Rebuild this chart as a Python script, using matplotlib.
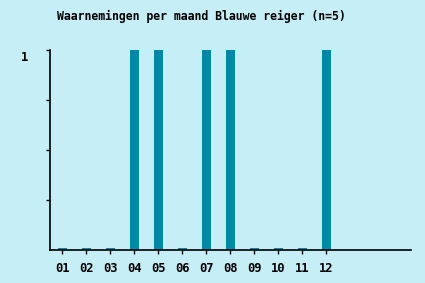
import numpy as np
import matplotlib.pyplot as plt
import matplotlib.transforms as mtransforms
from matplotlib.ticker import FixedLocator

# data per maand
maanden = ['01', '02', '03', '04', '05', '06', '07', '08', '09', '10', '11', '12']
waarnemingen = [0, 0, 0, 1, 1, 0, 1, 1, 0, 0, 0, 1]
titel = 'Waarnemingen per maand Blauwe reiger (n=5)'

achtergrond = '#c6eef7'
balk_kleur = '#0088a8'

fig = plt.figure(figsize=(4.25, 2.83), dpi=100, facecolor=achtergrond)
ax = fig.add_axes([50 / 425, 1 - 250 / 283, 360.5 / 425, 200 / 283])
ax.set_facecolor(achtergrond)

x = np.arange(1, len(maanden) + 1)
# lege maanden krijgen een klein streepje, zoals in het origineel
hoogtes = np.maximum(np.array(waarnemingen, dtype=float), 0.008)
ax.bar(x, hoogtes, width=0.38, color=balk_kleur, linewidth=0)

ax.set_xlim(0.48, 15.5)
ax.set_ylim(0, 1)

lettertype = dict(family='DejaVu Sans Mono', weight='bold', size=8.7)

ax.set_xticks(x)
ax.set_xticklabels(maanden, **lettertype)
ax.set_yticks([1])
ax.set_yticklabels(['1'], **lettertype)
ax.yaxis.set_minor_locator(FixedLocator([0.25, 0.5, 0.75]))

ax.tick_params(axis='x', length=3, width=1, pad=6, colors='black')
ax.tick_params(axis='y', which='both', length=3, width=1, pad=13, colors='black')

# label "1" staat iets onder het streepje
verschuiving = mtransforms.ScaledTranslation(0, -6 / 100, fig.dpi_scale_trans)
for lbl in ax.get_yticklabels():
    lbl.set_transform(lbl.get_transform() + verschuiving)

for kant in ['top', 'right']:
    ax.spines[kant].set_visible(False)
for kant in ['left', 'bottom']:
    ax.spines[kant].set_linewidth(1.2)

fig.text(201 / 425, 1 - 16 / 283, titel, ha='center', va='center',
         family='DejaVu Sans Mono', weight='bold', size=8.3)

fig.savefig('out.png', dpi=100, facecolor=achtergrond)
